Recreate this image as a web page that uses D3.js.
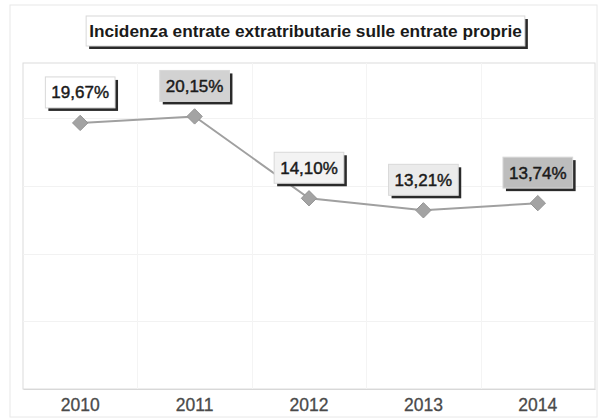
<!DOCTYPE html>
<html>
<head>
<meta charset="utf-8">
<script src="https://cdn.jsdelivr.net/npm/d3@7/dist/d3.min.js"></script>
<style>
  html, body { margin: 0; padding: 0; background: #fff; }
  svg { display: block; font-family: "Liberation Sans", Arial, sans-serif; }
</style>
</head>
<body>
<svg id="chart" width="600" height="420"></svg>
<script>
const title = "Incidenza entrate extratributarie sulle entrate proprie";
const years = ["2010", "2011", "2012", "2013", "2014"];
const values = [19.67, 20.15, 14.10, 13.21, 13.74];
const labels = ["19,67%", "20,15%", "14,10%", "13,21%", "13,74%"];
const labelFills = ["#ffffff", "#d2d2d2", "#f3f3f3", "#ebebeb", "#bdbdbd"];
const gridTicks = [5, 10, 15, 20];

const svg = d3.select("#chart");
const plot = { left: 23, right: 595, top: 63, bottom: 389 };

// outer frame
svg.append("rect").attr("x", 10).attr("y", 5).attr("width", 587).attr("height", 412)
  .attr("fill", "#fff").attr("stroke", "#e8e8e8").attr("stroke-width", 1);

const x = d3.scaleBand().domain(years).range([plot.left, plot.right]).padding(0);
const y = d3.scaleLinear().domain([0, 24.1]).range([plot.bottom, plot.top]);

// plot area
svg.append("rect").attr("x", plot.left).attr("y", plot.top)
  .attr("width", plot.right - plot.left).attr("height", plot.bottom - plot.top)
  .attr("fill", "#fff").attr("stroke", "#dcdcdc").attr("stroke-width", 1);

// horizontal grid
svg.append("g").selectAll("line").data(gridTicks).join("line")
  .attr("x1", plot.left).attr("x2", plot.right)
  .attr("y1", d => Math.round(y(d)) + 0.5).attr("y2", d => Math.round(y(d)) + 0.5)
  .attr("stroke", "#f2f2f2").attr("stroke-width", 1);

// vertical grid at band boundaries
svg.append("g").selectAll("line").data(years.slice(1)).join("line")
  .attr("x1", d => Math.round(x(d)) + 0.5).attr("x2", d => Math.round(x(d)) + 0.5)
  .attr("y1", plot.top).attr("y2", plot.bottom)
  .attr("stroke", "#f4f4f4").attr("stroke-width", 1);

// x axis labels
const xAxis = d3.axisBottom(x).tickSize(0).tickPadding(10);
const gx = svg.append("g").attr("transform", `translate(0,${plot.bottom})`).call(xAxis);
gx.select(".domain").attr("stroke", "#d8d8d8");
gx.selectAll("text").attr("font-size", "17.5px").attr("fill", "#4a4a4a")
  .attr("stroke", "#4a4a4a").attr("stroke-width", 0.3)
  .attr("font-family", "Liberation Sans, Arial, sans-serif");

const cx = d => x(d) + x.bandwidth() / 2;

// line
const line = d3.line().x((d, i) => cx(years[i])).y(d => y(d));
svg.append("path").datum(values).attr("d", line)
  .attr("fill", "none").attr("stroke", "#a0a0a0").attr("stroke-width", 2);

// diamonds
svg.append("g").selectAll("path").data(values).join("path")
  .attr("transform", (d, i) => `translate(${cx(years[i])},${y(d)})`)
  .attr("d", d3.symbol().type(d3.symbolDiamond2).size(150))
  .attr("fill", "#a3a3a3").attr("stroke", "#949494").attr("stroke-width", 1);

// data labels
const lg = svg.append("g").selectAll("g").data(values).join("g")
  .attr("transform", (d, i) => `translate(${cx(years[i])},${y(d) - 15})`);
lg.each(function(d, i) {
  const g = d3.select(this);
  const t = g.append("text").text(labels[i]).attr("font-size", "17px")
    .attr("fill", "#1a1a1a").attr("stroke", "#1a1a1a").attr("stroke-width", 0.45)
    .attr("text-anchor", "middle");
  const w = t.node().getComputedTextLength() + 12;
  const h = 31;
  g.insert("rect", "text").attr("x", -w / 2 + 3).attr("y", -h + 3)
    .attr("width", w).attr("height", h).attr("fill", "#2a2a2a");
  g.insert("rect", "text").attr("x", -w / 2).attr("y", -h)
    .attr("width", w).attr("height", h).attr("fill", labelFills[i])
    .attr("stroke", "#d8d8d8").attr("stroke-width", 1);
  t.attr("y", -h / 2 + 6);
});

// title box
const tg = svg.append("g");
const tt = tg.append("text").text(title).attr("font-size", "17px").attr("font-weight", "bold")
  .attr("fill", "#1a1a1a").attr("text-anchor", "middle").attr("x", 305.5).attr("y", 37);
let tw = tt.node().getComputedTextLength();
tt.attr("font-size", (17 * 433 / tw).toFixed(2) + "px");
tw = tt.node().getComputedTextLength();
const bx = 305.5 - tw / 2 - 3, bw = tw + 6;
tg.insert("rect", "text").attr("x", bx + 3).attr("y", 19).attr("width", bw).attr("height", 30)
  .attr("fill", "#2a2a2a");
tg.insert("rect", "text").attr("x", bx).attr("y", 16).attr("width", bw).attr("height", 30)
  .attr("fill", "#fff").attr("stroke", "#d8d8d8").attr("stroke-width", 1);
</script>
</body>
</html>
